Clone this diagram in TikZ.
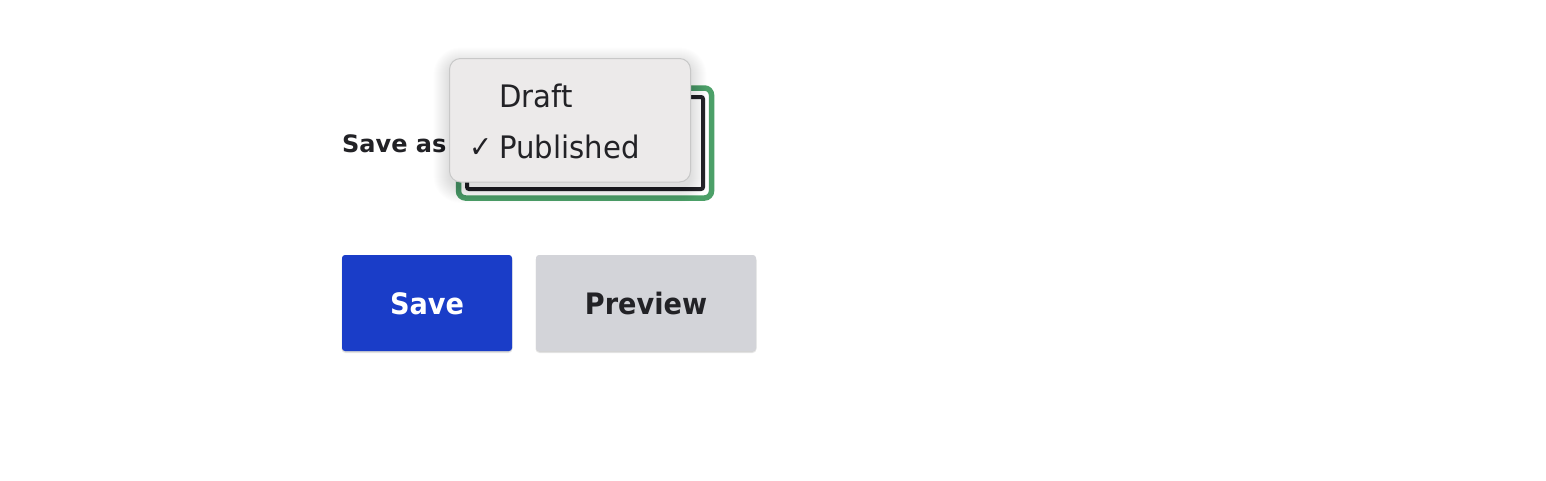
\documentclass[tikz,border=0pt]{standalone}
\usepackage{fontspec}
\setmainfont{DejaVu Sans}
\newfontfamily\uifont[FakeStretch=0.92]{DejaVu Sans}
\newfontfamily\menufont[FakeStretch=0.94]{DejaVu Sans}
\definecolor{txt}{HTML}{222226}
\definecolor{focusgreen}{HTML}{4CA068}
\definecolor{selborder}{HTML}{26262B}
\definecolor{menufill}{HTML}{ECEAEA}
\definecolor{menuborder}{HTML}{C8C8C8}
\definecolor{saveblue}{HTML}{1A3DC8}
\definecolor{prevgray}{HTML}{D3D4D9}
\tikzset{
  lbl/.style={inner sep=0pt, text=txt, anchor=base west},
  btn/.style={rectangle, rounded corners=3pt, inner sep=0pt, text height=22pt, text depth=0pt,
    minimum height=96pt, font=\uifont\fontsize{29.5}{34}\selectfont\bfseries},
}
\begin{document}
\begin{tikzpicture}[x=1pt,y=-1pt]
\fill[white] (0,0) rectangle (1546,480);
\useasboundingbox (0,0) rectangle (1546,480);
% label
\node[lbl, font=\fontsize{24}{28}\selectfont\bfseries] (saveas) at (342,152) {Save as};
% select field with focus ring
\draw[focusgreen, line width=5.5pt, rounded corners=7pt] (458.5,88) rectangle (711.5,198);
\draw[selborder, fill=white, line width=4pt, rounded corners=2pt] (467,97) rectangle (703,189);
% dropdown shadow (soft, layered)
\foreach \i in {1,...,16}{
  \fill[black, opacity=0.006, rounded corners=11pt+\i pt]
    (449.5-\i,58.5+5-\i) rectangle (690.5+\i,182+5+\i);
}
% dropdown menu
\path[fill=menufill, draw=menuborder, line width=1pt, rounded corners=11pt]
  (449.5,58.5) rectangle (690.5,182);
\node[lbl, font=\menufont\fontsize{31}{36}\selectfont] (draft) at (499,107) {Draft};
\node[lbl, font=\uifont\fontsize{30}{34}\selectfont] (check) at (469,157) {✓};
\node[lbl, font=\menufont\fontsize{31}{36}\selectfont] (published) at (499,158.5) {Published};
% button shadows
\foreach \bx/\ex in {342/512,536/756}{
  \fill[black, opacity=0.10, rounded corners=4pt] (\bx-0.5,256) rectangle (\ex+0.5,353);
  \fill[black, opacity=0.08, rounded corners=4pt] (\bx,256) rectangle (\ex,352);
}
% buttons
\node[btn, fill=saveblue, text=white, minimum width=170pt] (save) at (427,303) {Save};
\node[btn, fill=prevgray, text=txt, minimum width=220pt] (preview) at (646,303) {Preview};
\end{tikzpicture}
\end{document}
